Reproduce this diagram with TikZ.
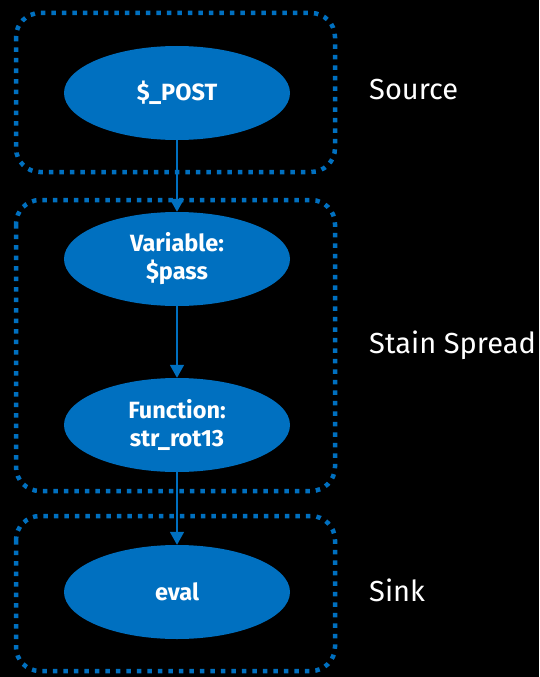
\documentclass[tikz,border=0pt]{standalone}
\usepackage{fontspec}
\setmainfont{Fira Sans}
\usetikzlibrary{shapes.geometric,arrows.meta}
\definecolor{flowblue}{HTML}{0070C0}
\begin{document}
\begin{tikzpicture}[x=1pt,y=-1pt,
  stage/.style={ellipse, fill=flowblue, minimum width=226pt, minimum height=94pt,
    inner sep=0pt, text=white, align=center,
    font=\bfseries\fontsize{23.5}{28}\selectfont},
  zone/.style={draw=flowblue, line width=4.5pt, dash pattern=on 4.5pt off 6pt,
    rounded corners=24pt},
  flow/.style={draw=flowblue, line width=1.8pt,
    -{Triangle[length=13pt,width=14pt]}},
  zonelabel/.style={text=white, anchor=west, inner sep=0pt,
    font=\fontsize{29}{34}\selectfont}]
% canvas
\fill[black] (0,0) rectangle (539,677);
\useasboundingbox (0,0) rectangle (539,677);
% dotted stage groups
\draw[zone] (16,13) rectangle (335,172);
\draw[zone] (16,200) rectangle (335,491);
\draw[zone] (16,516) rectangle (335,671);
% flow nodes
\node[stage] (post) at (177,93) {\$\_POST};
\node[stage] (pass) at (177,259) {Variable:\\\$pass};
\node[stage] (rot) at (177,425) {Function:\\str\_rot13};
\node[stage] (eval) at (177,592) {eval};
% connectors
\draw[flow] (post.south) -- (pass.north);
\draw[flow] (pass.south) -- (rot.north);
\draw[flow] (rot.south) -- (eval.north);
% group labels
\node[zonelabel] (lsrc) at (369,90) {Source};
\node[zonelabel] (lspread) at (369,345) {Stain Spread};
\node[zonelabel] (lsink) at (369,590) {Sink};
\end{tikzpicture}
\end{document}
